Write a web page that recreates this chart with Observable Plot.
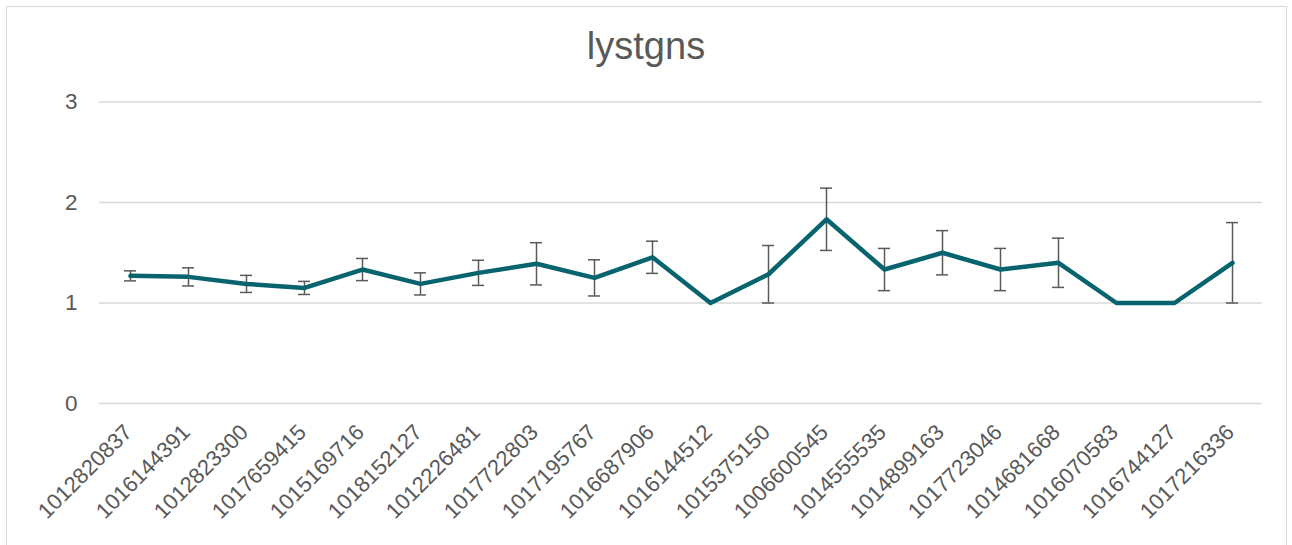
<!DOCTYPE html>
<html>
<head>
<meta charset="utf-8">
<script src="https://cdn.jsdelivr.net/npm/d3@7"></script>
<script src="https://cdn.jsdelivr.net/npm/@observablehq/plot@0.6"></script>
<style>
  html, body { margin: 0; padding: 0; background: #fff; }
  #wrap { position: relative; width: 1292px; height: 545px; overflow: hidden; font-family: "Liberation Sans", Arial, sans-serif; }
  #border { position: absolute; left: 6px; top: 6px; width: 1281px; height: 600px; border: 1px solid #d9d9d9; box-sizing: border-box; }
  #title { position: absolute; left: 0; top: 27px; width: 1292px; text-align: center; font-size: 38px; line-height: 38px; color: #595959; }
  #chart { position: absolute; left: 0; top: 80px; }
</style>
</head>
<body>
<div id="wrap">
  <div id="border"></div>
  <div id="title">lystgns</div>
  <div id="chart"></div>
</div>
<script>
const ids = ["1012820837","1016144391","1012823300","1017659415","1015169716","1018152127","1012226481","1017722803","1017195767","1016687906","1016144512","1015375150","1006600545","1014555535","1014899163","1017723046","1014681668","1016070583","1016744127","1017216336"];
const means = [1.27, 1.26, 1.19, 1.15, 1.333, 1.19, 1.3, 1.39, 1.25, 1.455, 1.0, 1.286, 1.833, 1.333, 1.5, 1.333, 1.4, 1.0, 1.0, 1.4];
const errs = [0.05, 0.09, 0.085, 0.065, 0.11, 0.11, 0.125, 0.21, 0.18, 0.16, 0, 0.286, 0.31, 0.21, 0.22, 0.21, 0.245, 0, 0, 0.4];
const yTicks = [0, 1, 2, 3];

const rows = ids.map((id, i) => ({id, mean: means[i], err: errs[i], lo: means[i] - errs[i], hi: means[i] + errs[i]}));
const withErr = rows.filter(d => d.err > 0);
const caps = withErr.flatMap(d => [{id: d.id, v: d.lo}, {id: d.id, v: d.hi}]);

const chart = Plot.plot({
  width: 1292,
  height: 465,
  marginLeft: 99,
  marginRight: 30,
  marginTop: 21.5,
  marginBottom: 142,
  style: {color: "#595959", fontFamily: "'Liberation Sans', Arial, sans-serif", fontSize: "22px", background: "transparent"},
  x: {type: "point", domain: ids, padding: 0.5},
  y: {domain: [0, 3]},
  marks: [
    Plot.ruleY(yTicks, {stroke: "#d9d9d9", strokeWidth: 1.5}),
    Plot.axisY({ticks: yTicks, tickSize: 0, tickPadding: 22, fontSize: 22.5, tickFormat: d => String(d)}),
    Plot.axisX({tickRotate: -45, tickSize: 0, tickPadding: 25, dx: -2, fontSize: 22, label: null}),
    Plot.ruleX(withErr, {x: "id", y1: "lo", y2: "hi", stroke: "#595959", strokeWidth: 1.5}),
    Plot.ruleY(caps, {x1: "id", x2: "id", y: "v", insetLeft: -6, insetRight: -6, stroke: "#595959", strokeWidth: 1.5}),
    Plot.line(rows, {x: "id", y: "mean", stroke: "#07646f", strokeWidth: 4.5, strokeLinejoin: "round", strokeLinecap: "round"})
  ]
});
document.getElementById("chart").appendChild(chart);
</script>
</body>
</html>
